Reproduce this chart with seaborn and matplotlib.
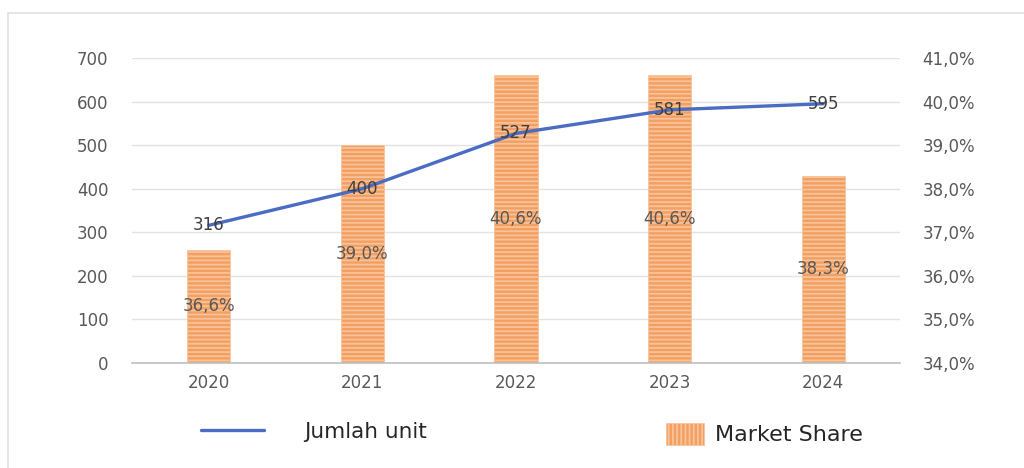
import matplotlib
matplotlib.use("Agg")
import matplotlib.pyplot as plt
import seaborn as sns
import pandas as pd
import numpy as np
from matplotlib.lines import Line2D
from matplotlib.patches import Patch, Rectangle

years = ["2020", "2021", "2022", "2023", "2024"]
units = [316, 400, 527, 581, 595]
share = [36.6, 39.0, 40.6, 40.6, 38.3]
left_ticks = [0, 100, 200, 300, 400, 500, 600, 700]
right_ticks = [34.0, 35.0, 36.0, 37.0, 38.0, 39.0, 40.0, 41.0]

sns.set_theme(style="white")
plt.rcParams['font.family'] = ['DejaVu Sans']
plt.rcParams['hatch.linewidth'] = 1.3

df = pd.DataFrame({"year": years, "units": units, "share": share})

fig = plt.figure(figsize=(10.24, 4.68), dpi=100)
ax1 = fig.add_axes([132/1024, 1-363/468, (900-132)/1024, (363-58)/468])
ax2 = ax1.twinx()

grey = "#595959"
bar_face = "#F39F60"
bar_hatch = "#F8C29A"
ax2.set_zorder(0)
ax1.set_zorder(1)
ax1.patch.set_visible(False)

sns.barplot(data=df, x="year", y="share", ax=ax2, color=bar_face,
            width=0.28, saturation=1)
for p in ax2.patches:
    p.set_hatch("----")
    p.set_edgecolor(bar_hatch)
    p.set_linewidth(0.5)
ax2.set_ylim(34, 41)
ax2.set_yticks(right_ticks)
ax2.set_yticklabels([f"{t:.1f}%".replace(".", ",") for t in right_ticks],
                    color=grey, fontsize=12)
ax2.tick_params(axis="y", length=0, pad=16)

for i, v in enumerate(share):
    ax2.text(i, (34 + v) / 2, f"{v:.1f}%".replace(".", ","), ha="center",
             va="center", color=grey, fontsize=12)

ax2.set_axisbelow(True)
ax2.yaxis.grid(True, color="#E3E3E3", linewidth=1)
ax2.set_xlabel("")
ax2.set_ylabel("")

xpos = np.arange(len(years))
sns.lineplot(x=xpos, y=units, ax=ax1, color="#4A6CC2", linewidth=2.4)
ax1.set_ylim(0, 700)
ax1.set_xlim(-0.5, len(years) - 0.5)
ax1.set_yticks(left_ticks)
ax1.set_yticklabels([str(t) for t in left_ticks], color=grey, fontsize=12)
ax1.tick_params(axis="y", length=0, pad=17)
ax1.set_xticks(xpos)
ax1.set_xticklabels(years, color=grey, fontsize=12)
ax1.tick_params(axis="x", length=0, pad=8)
ax1.set_ylabel("")
ax1.set_xlabel("")

for i, v in enumerate(units):
    ax1.text(i, v, str(v), ha="center", va="center", color="#404040", fontsize=12)

for a in (ax1, ax2):
    for s in a.spines.values():
        s.set_visible(False)
ax1.spines["bottom"].set_visible(True)
ax1.spines["bottom"].set_color("#BFBFBF")
ax1.spines["bottom"].set_linewidth(1.2)

h1 = [Line2D([0], [0], color="#4A6CC2", linewidth=2.4)]
leg1 = fig.legend(h1, ["Jumlah unit"], loc="center left",
                  bbox_to_anchor=(182/1024, 1-432/468), frameon=False,
                  fontsize=15.5, handlelength=2.9, handletextpad=1.85)
for t in leg1.get_texts():
    t.set_color("#262626")
h2 = [Patch(facecolor=bar_face, edgecolor=bar_hatch, hatch="||||", linewidth=0.5)]
leg2 = fig.legend(h2, ["Market Share"], loc="center left",
                  bbox_to_anchor=(646/1024, 1-434/468), frameon=False,
                  fontsize=16, handlelength=1.7, handleheight=1.2, handletextpad=0.5)
for t in leg2.get_texts():
    t.set_color("#262626")

fig.patches.append(Rectangle((8/1024, -0.05), 1.1, 1-13/468 + 0.05,
                             transform=fig.transFigure, fill=False,
                             edgecolor="#E0E0E0", linewidth=1.2))

fig.savefig("out.png", dpi=100)
